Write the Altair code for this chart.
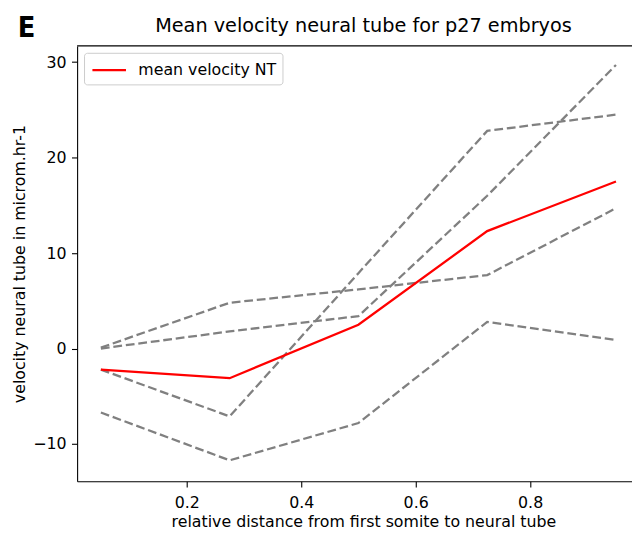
import altair as alt
import pandas as pd

# ---- data ----
x_pos = [0.05, 0.275, 0.5, 0.725, 0.95]
embryo_1 = [0.1, 4.8, 6.2, 7.7, 14.7]
embryo_2 = [0.0, 1.8, 3.4, 16.0, 29.7]
embryo_3 = [-2.2, -7.1, 7.9, 22.8, 24.5]
embryo_4 = [-6.7, -11.7, -7.8, 2.8, 0.9]
mean_nt = [-2.2, -3.1, 2.5, 12.3, 17.5]
x_ticks = [0.2, 0.4, 0.6, 0.8]
y_ticks = [-10, 0, 10, 20, 30]
series_names = ["embryo 1", "embryo 2", "embryo 3", "embryo 4"]
mean_label = "mean velocity NT"
title_text = "Mean velocity neural tube for p27 embryos"
panel_text = "E"

rows = []
for name, vals in zip(series_names, [embryo_1, embryo_2, embryo_3, embryo_4]):
    for xv, yv in zip(x_pos, vals):
        rows.append({"x": xv, "v": yv, "embryo": name})
emb_df = pd.DataFrame(rows)
mean_df = pd.DataFrame({"x": x_pos, "v": mean_nt, "series": [mean_label] * len(x_pos)})

W, H = 562, 441
FONT = "DejaVu Sans"
FS = 16

xscale = alt.Scale(domain=[0.0085, 0.978], nice=False, zero=False)
yscale = alt.Scale(domain=[-13.9, 31.7], nice=False, zero=False)

x_enc = alt.X("x:Q", scale=xscale,
              axis=alt.Axis(values=x_ticks, format=".1f", titlePadding=4,
                            labelPadding=7.5, titleX=290,
                            title="relative distance from first somite to neural tube"))
y_enc = alt.Y("v:Q", scale=yscale,
              axis=alt.Axis(values=y_ticks, format="d", titlePadding=5,
                            labelPadding=5.5,
                            labelExpr="replace(datum.label, '-', '\u2212')",
                            title="velocity neural tube in microm.hr-1"))

gray = alt.Chart(emb_df).mark_line(color="gray", strokeDash=[8.9, 3.85], strokeWidth=2.3).encode(
    x=x_enc, y=y_enc, detail="embryo:N"
)

red = alt.Chart(mean_df).mark_line(strokeWidth=2.3).encode(
    x=x_enc, y=y_enc,
    color=alt.Color("series:N",
                    scale=alt.Scale(domain=[mean_label], range=["red"]),
                    legend=alt.Legend(title=None, orient="none", legendX=7, legendY=7,
                                      symbolType="M-1.7,0H1.7", symbolSize=400,
                                      symbolOffset=8,
                                      symbolStrokeWidth=2.3, labelFont=FONT,
                                      labelFontSize=FS, labelColor="black",
                                      labelOffset=18, padding=6,
                                      strokeColor="#cccccc", fillColor="white",
                                      cornerRadius=3))
)

top_spine = alt.Chart(pd.DataFrame({"a": [0]})).mark_rule(color="black", strokeWidth=1.1).encode(
    x=alt.value(0), x2=alt.value(W), y=alt.value(0)
)

panel_letter = alt.Chart(pd.DataFrame({"t": [panel_text]})).mark_text(
    font="DejaVu Sans Condensed", fontSize=29, fontWeight="bold",
    align="left", baseline="alphabetic", color="black"
).encode(text="t:N", x=alt.value(-60), y=alt.value(-9))

title_mark = alt.Chart(pd.DataFrame({"t": [title_text]})).mark_text(
    font=FONT, fontSize=19.5, align="center", baseline="alphabetic", color="black"
).encode(text="t:N", x=alt.value(290), y=alt.value(-14))

chart = alt.layer(gray, red, top_spine, panel_letter, title_mark).properties(
    width=W, height=H,
    autosize=alt.AutoSizeParams(type="none"),
    padding={"left": 70, "top": 35, "right": 0, "bottom": 50},
).configure_view(stroke=None).configure_axis(
    grid=False, labelFont=FONT, labelFontSize=FS, labelColor="black",
    tickColor="black", tickSize=5.7, tickWidth=1.1, domainColor="black", domainWidth=1.1,
    titleFont=FONT, titleFontSize=FS, titleFontWeight="normal", titleColor="black"
)

chart.save("out.html", embed_options={"renderer": "svg", "actions": False})
